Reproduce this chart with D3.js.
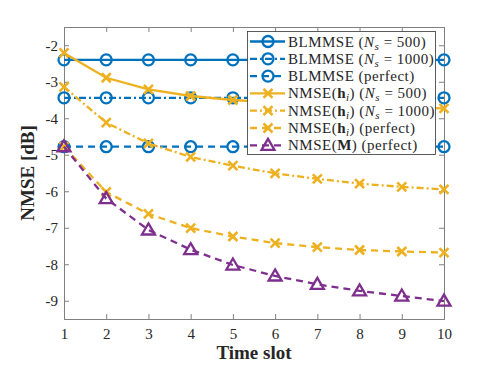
<!DOCTYPE html>
<html>
<head>
<meta charset="utf-8">
<script src="https://cdn.jsdelivr.net/npm/d3@7"></script>
<style>
  body { margin: 0; background: #fff; }
  text { font-family: "Liberation Serif", "DejaVu Serif", serif; }
</style>
</head>
<body>
<svg width="491" height="368"></svg>
<script>
// data
const slots = [1, 2, 3, 4, 5, 6, 7, 8, 9, 10];
const blmmse500 = [-2.4, -2.4, -2.4, -2.4, -2.4, -2.4, -2.4, -2.4, -2.4, -2.4];
const blmmse1000 = [-3.44, -3.44, -3.44, -3.44, -3.44, -3.44, -3.44, -3.44, -3.44, -3.44];
const blmmsePerfect = [-4.78, -4.78, -4.78, -4.78, -4.78, -4.78, -4.78, -4.78, -4.78, -4.78];
const nmseH500 = [-2.21, -2.89, -3.21, -3.39, -3.50, -3.57, -3.62, -3.66, -3.70, -3.73];
const nmseH1000 = [-3.14, -4.12, -4.69, -5.06, -5.30, -5.51, -5.66, -5.79, -5.88, -5.95];
const nmseHPerfect = [-4.78, -6.02, -6.62, -7.01, -7.24, -7.42, -7.53, -7.61, -7.65, -7.68];
const nmseMPerfect = [-4.78, -6.2, -7.06, -7.6, -8.02, -8.32, -8.55, -8.73, -8.87, -9.01];
const yTicks = [-9, -8, -7, -6, -5, -4, -3, -2];

const blue = '#0072BD', yellow = '#EDB120', purple = '#7E2F8E';
const DASH = '7,5', DASHDOT = '7,3,2,3';

const series = [
  {vals: blmmse500, color: blue, dash: null, marker: 'o', label: ['BLMMSE (', 'N', '500']},
  {vals: blmmse1000, color: blue, dash: DASHDOT, marker: 'o', label: ['BLMMSE (', 'N', '1000']},
  {vals: blmmsePerfect, color: blue, dash: DASH, marker: 'o', label: ['BLMMSE (perfect)']},
  {vals: nmseH500, color: yellow, dash: null, marker: 'x', label: ['h', 'N', '500']},
  {vals: nmseH1000, color: yellow, dash: DASHDOT, marker: 'x', label: ['h', 'N', '1000']},
  {vals: nmseHPerfect, color: yellow, dash: DASH, marker: 'x', label: ['h', 'perfect']},
  {vals: nmseMPerfect, color: purple, dash: DASH, marker: '^', label: ['M']}
];

const svg = d3.select('svg');
const pLeft = 64, pRight = 444, pTop = 27, pBottom = 319;
const axisCol = '#808080';
const serif = '"Liberation Serif", "DejaVu Serif", serif';

const xScale = d3.scaleLinear().domain([1, 10]).range([pLeft, pRight]);
const yScale = d3.scaleLinear().domain([-9.5, -1.5]).range([pBottom, pTop]);

// axes
const g = svg.append('g');
const xAxis = g.append('g').attr('transform', `translate(0,${pBottom})`)
  .call(d3.axisBottom(xScale).tickValues(slots).tickSize(-5).tickPadding(9).tickFormat(d3.format('d')));
const yAxis = g.append('g').attr('transform', `translate(${pLeft},0)`)
  .call(d3.axisLeft(yScale).tickValues(yTicks).tickSize(-5).tickPadding(6).tickFormat(d => d));
const xTop = g.append('g').attr('transform', `translate(0,${pTop})`)
  .call(d3.axisTop(xScale).tickValues(slots).tickSize(-5).tickFormat(''));
const yRight = g.append('g').attr('transform', `translate(${pRight},0)`)
  .call(d3.axisRight(yScale).tickValues(yTicks).tickSize(-5).tickFormat(''));
[xAxis, yAxis, xTop, yRight].forEach(a => {
  a.attr('font-family', serif);
  a.select('.domain').attr('stroke', axisCol).attr('stroke-width', 1);
  a.selectAll('.tick line').attr('stroke', axisCol);
  a.selectAll('.tick text').attr('fill', '#262626').style('font-size', '15px');
});

svg.append('text').attr('x', 254).attr('y', 359).attr('text-anchor', 'middle')
  .style('font-size', '19px').style('font-weight', 'bold').attr('fill', '#262626').text('Time slot');
svg.append('text').attr('transform', 'translate(34,173) rotate(-90)').attr('text-anchor', 'middle')
  .style('font-size', '19px').style('font-weight', 'bold').attr('fill', '#262626').text('NMSE [dB]');

// markers
function drawMarker(sel, type, color, x, y) {
  if (type === 'o') {
    sel.append('circle').attr('cx', x).attr('cy', y).attr('r', 5.5)
      .attr('fill', 'none').attr('stroke', color).attr('stroke-width', 2.3);
  } else if (type === 'x') {
    const s = 4.5;
    sel.append('path').attr('d', `M${x - s},${y - s}L${x + s},${y + s}M${x - s},${y + s}L${x + s},${y - s}`)
      .attr('stroke', color).attr('stroke-width', 2.6).attr('fill', 'none');
  } else {
    const s = 6.5;
    sel.append('path').attr('d', `M${x},${y - s}L${x + s},${y + s * 0.7}L${x - s},${y + s * 0.7}Z`)
      .attr('stroke', color).attr('stroke-width', 2.3).attr('fill', 'none');
  }
}

const line = d3.line().x((d, i) => xScale(slots[i])).y(d => yScale(d));
const plot = svg.append('g');
series.forEach(s => {
  plot.append('path').datum(s.vals).attr('d', line).attr('fill', 'none')
    .attr('stroke', s.color).attr('stroke-width', 2.3).attr('stroke-dasharray', s.dash);
  s.vals.forEach((v, i) => drawMarker(plot, s.marker, s.color, xScale(slots[i]), yScale(v)));
});

// legend
const lg = svg.append('g');
lg.append('rect').attr('x', 247.5).attr('y', 31.5).attr('width', 188).attr('height', 123)
  .attr('fill', '#fff').attr('stroke', '#333').attr('stroke-width', 0.8);
series.forEach((s, i) => {
  const y = 41.5 + i * 17.3;
  lg.append('line').attr('x1', 250).attr('x2', 285).attr('y1', y).attr('y2', y)
    .attr('stroke', s.color).attr('stroke-width', 2.3).attr('stroke-dasharray', s.dash);
  drawMarker(lg, s.marker, s.color, 268, y);
  const t = lg.append('text').attr('x', 288).attr('y', y + 5).style('font-size', '15px')
    .style('letter-spacing', '0.5px').attr('fill', '#262626');
  const lab = s.label;
  const sub = (txt) => t.append('tspan').attr('dy', 3).style('font-size', '11px').style('font-style', 'italic').text(txt);
  if (lab[0] === 'h' || lab[0] === 'M') {
    t.append('tspan').text('NMSE(');
    t.append('tspan').style('font-weight', 'bold').text(lab[0]);
    if (lab[0] === 'h') sub('i');
    t.append('tspan').attr('dy', lab[0] === 'h' ? -3 : 0).text(') (');
    if (lab[1] === 'N') {
      t.append('tspan').style('font-style', 'italic').text('N');
      sub('s');
      t.append('tspan').attr('dy', -3).text(' = ' + lab[2] + ')');
    } else {
      t.append('tspan').text('perfect)');
    }
  } else if (lab.length === 3) {
    t.append('tspan').text(lab[0]);
    t.append('tspan').style('font-style', 'italic').text('N');
    sub('s');
    t.append('tspan').attr('dy', -3).text(' = ' + lab[2] + ')');
  } else {
    t.text(lab[0]);
  }
});
</script>
</body>
</html>
